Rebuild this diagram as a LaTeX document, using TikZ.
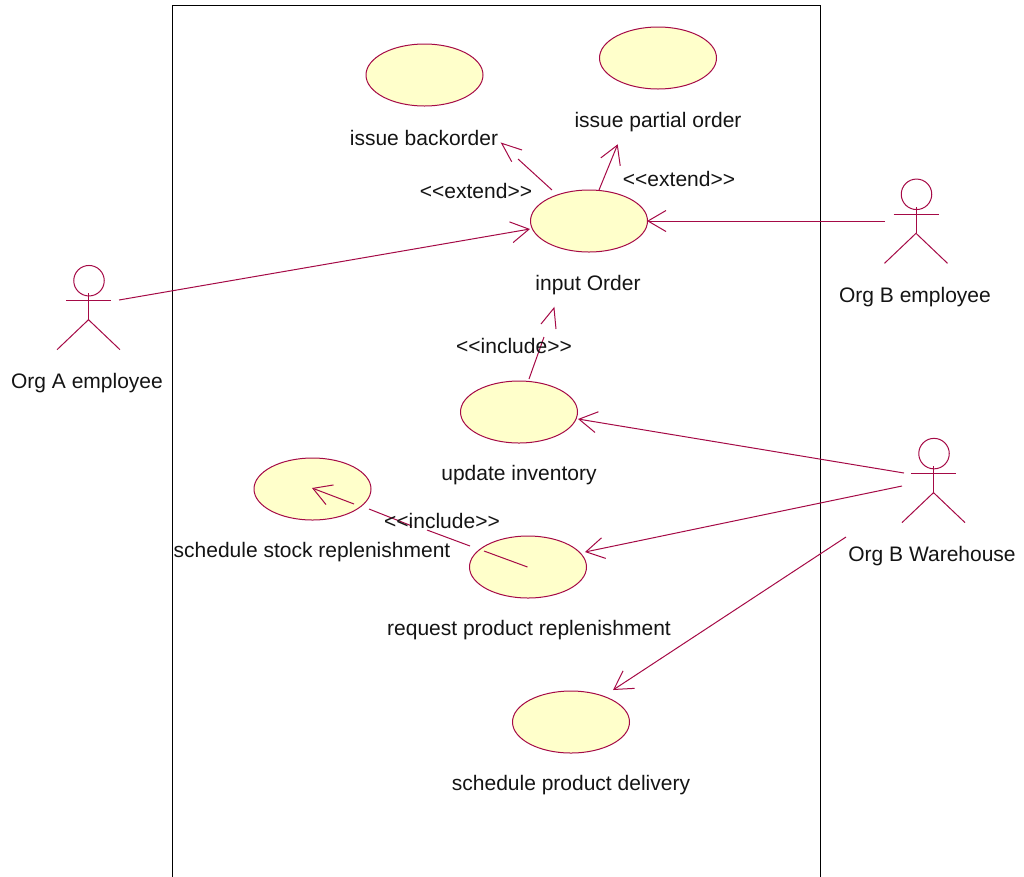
\documentclass[tikz,border=0pt]{standalone}
\usepackage{fontspec}
\setmainfont{Liberation Sans}
\usetikzlibrary{arrows.meta,shapes.geometric}
\definecolor{umlline}{HTML}{A50A46}
\definecolor{umlfill}{HTML}{FFFFCB}
\tikzset{
  x=1pt,y=-1pt,
  usecase/.style={ellipse,draw=umlline,fill=umlfill,line width=1pt,minimum width=117pt,minimum height=62pt,inner sep=0pt},
  lbl/.style={font=\fontsize{21}{25}\selectfont,text=black!92,inner sep=0pt,anchor=center},
  conn/.style={draw=umlline,line width=1pt},
  assoc/.style={conn,-{Straight Barb[length=18pt,width=21pt,line width=1pt]}},
  limb/.style={draw=umlline,line width=1pt}
}
\newcommand{\actorfig}[3]{%
  \node[circle,draw=umlline,line width=1pt,minimum size=30.5pt,inner sep=0pt] (#1head) at (#2+0.5,#3) {};
  \draw[limb] (#2,#3+12.7) -- (#2,#3+39) coordinate (#1hip);
  \draw[limb] (#2-22.5,#3+20) -- (#2+22.5,#3+20);
  \draw[limb] (#2-31.5,#3+69) -- (#1hip) -- (#2+31.5,#3+69);
}
\newcommand{\stereo}[1]{<{}<#1>{}>}
\begin{document}
\begin{tikzpicture}
\useasboundingbox (0,0) rectangle (1024,876);
\draw[black,line width=1pt] (172.5,880) -- (172.5,5) -- (820.5,5) -- (820.5,880);
% use cases
\node[usecase] (back) at (424.5,75) {};
\node[usecase] (part) at (658,58) {};
\node[usecase] (input) at (589,221) {};
\node[usecase] (inv) at (519,412) {};
\node[usecase] (stock) at (312.5,489) {};
\node[usecase] (req) at (528,567) {};
\node[usecase] (deliv) at (571,722) {};
% actors
\actorfig{a}{88.5}{280.7}
\actorfig{b}{916}{194.3}
\actorfig{w}{933.5}{453.6}
% free ends
\coordinate (aR) at (119,300);
\coordinate (aT) at (530,229);
\coordinate (bL) at (885,221);
\coordinate (bT) at (647,221);
\coordinate (w1) at (904,473);
\coordinate (w1T) at (578,419);
\coordinate (w2) at (902,486);
\coordinate (w2T) at (585,552);
\coordinate (w3) at (846,537);
\coordinate (w3T) at (613,690);
\draw[assoc] (aR) -- (aT);
\draw[assoc] (bL) -- (bT);
\draw[assoc] (w1) -- (w1T);
\draw[assoc] (w2) -- (w2T);
\draw[assoc] (w3) -- (w3T);
% extend: partial
\coordinate (pS) at (599,190);
\coordinate (pT) at (617.7,144.3);
\draw[assoc] (pS) -- (pT);
% extend: backorder (head stands apart)
\coordinate (bkS) at (552,190);
\coordinate (bkE) at (518,159);
\coordinate (bkT) at (501.7,143.3);
\coordinate (bkA) at (522,150);
\coordinate (bkB) at (511.7,161.7);
\draw[conn] (bkS) -- (bkE);
\draw[conn] (bkA) -- (bkT) -- (bkB);
% include: update inventory to input Order
\coordinate (iS) at (529,379);
\coordinate (iE) at (544,337);
\coordinate (iT) at (554,308);
\coordinate (iA) at (541,324);
\coordinate (iB) at (556,329);
\draw[conn] (iS) -- (iE);
\draw[conn] (iA) -- (iT) -- (iB);
% include: request to stock (broken line)
\coordinate (r1) at (527.5,567);
\coordinate (r2) at (484,551);
\coordinate (r3) at (470,546);
\coordinate (r4) at (427,530);
\coordinate (r5) at (412,526);
\coordinate (r6) at (369,509);
\coordinate (r7) at (354,504);
\coordinate (r8) at (312,488);
\draw[conn] (r1) -- (r2);
\draw[conn] (r3) -- (r4);
\draw[conn] (r5) -- (r6);
\draw[assoc] (r7) -- (r8);
% labels
\node[lbl] (lback) at (424,138) {issue backorder};
\node[lbl] (lpart) at (658,122) {issue partial order};
\node[lbl] (lext1) at (476,191) {\stereo{extend}};
\node[lbl] (lext2) at (679,179) {\stereo{extend}};
\node[lbl] (linput) at (588,285) {input Order};
\node[lbl] (linc1) at (514,346) {\stereo{include}};
\node[lbl] (linv) at (519,475) {update inventory};
\node[lbl] (lstock) at (312,552) {schedule stock replenishment};
\node[lbl] (linc2) at (442,521) {\stereo{include}};
\node[lbl] (lreq) at (529,630) {request product replenishment};
\node[lbl] (ldeliv) at (571,785) {schedule product delivery};
\node[lbl] (la) at (87,383) {Org A employee};
\node[lbl] (lb) at (915,297) {Org B employee};
\node[lbl] (lw) at (932,556) {Org B Warehouse};
\end{tikzpicture}
\end{document}
